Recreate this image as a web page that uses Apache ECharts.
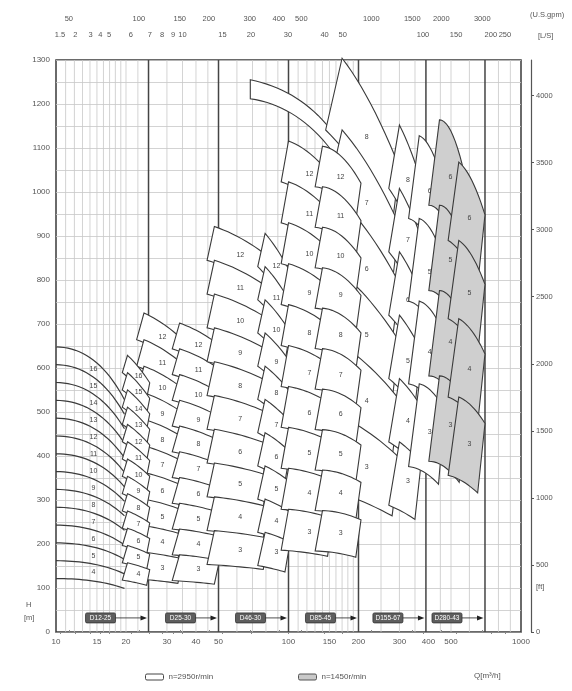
<!DOCTYPE html>
<html><head><meta charset="utf-8">
<script src="https://cdn.jsdelivr.net/npm/echarts@6/dist/echarts.min.js"></script>
<style>html,body{margin:0;padding:0;background:#fff}#c{width:572px;height:691px}</style>
</head><body><div id="c"></div>
<script>
// ---------- data ----------
const flowTicks = [10, 15, 20, 30, 40, 50, 100, 150, 200, 300, 400, 500, 1000];
const gpmTicks = [50, 100, 150, 200, 300, 400, 500, 1000, 1500, 2000, 3000];
const lsTickLabels = ['1.5','2','3','4','5','6','7','8','9','10','15','20','30','40','50','100','150','200','250'];
const lsTickFlow = [10.4, 12.1, 14.1, 15.5, 16.9, 21.0, 25.3, 28.6, 31.9, 35.0, 52, 68.9, 99.5, 143, 171, 379, 526, 742, 853];
const gridFlows = [11,12,13,14,15,16,17,18,19,20,22.5,30,35,40,45,60,70,80,90,110,120,130,140,150,160,170,180,190,250,300,350,450,500,600,800,900];
const sepFlows = [25, 50, 100, 200, 390, 700];
const boxModels = ['D12-25', 'D25-30', 'D46-30', 'D85-45', 'D155-67', 'D280-43'];

// family A: open H-Q curves (one per stage count)
const aStages = [3,4,5,6,7,8,9,10,11,12,13,14,15,16];
const aFlow = [10, 14.5, 19.7];
const aHeadPerStage = [40.5, 38.6, 33.0];

// long band above the 100-200 columns
const bandFlowTop = [68.5, 123.5, 189];
const bandHeadTop = [1255, 1191, 1061];
const bandFlowBot = [68.5, 123.5, 196];
const bandHeadBot = [1212, 1148, 1000];

// tile families (columns of stage tiles): B C D E F G H I J K L M
const famQL = [20.3, 23.9, 34.0, 48.0, 79.3, 100, 140, 170, 300, 365, 446, 540];
const famQR = [25.3, 35.2, 50.5, 82.0, 101.6, 155, 205, 300, 372, 470, 583, 700];
const famHL = [39.3, 60.4, 58.5, 76.8, 75.5, 93, 92, 163, 144, 188, 194, 178];
const famHM = [37.6, 58.3, 56.8, 74.5, 72.3, 90.5, 90, 150, 137, 182, 188, 171];
const famHR = [35.4, 55.3, 54.3, 71.1, 68.2, 86, 85, 132, 128, 168, 170, 158];
const famShiftL = [0.95, 0.93, 0.93, 0.93, 0.93, 0.93, 0.93, 0.85, 0.9, 0.9, 0.9, 0.9];
const famShiftR = [0.97, 0.95, 0.95, 0.95, 0.95, 0.95, 0.95, 0.93, 0.94, 0.94, 0.93, 0.93];
const famMinStage = [4, 3, 3, 3, 3, 3, 3, 3, 3, 3, 3, 3];
const famMaxStage = [16, 12, 12, 12, 12, 12, 12, 8, 8, 6, 6, 6];
const famSpeed = [2950, 2950, 2950, 2950, 2950, 2950, 2950, 2950, 2950, 2950, 1450, 1450];
const famDrawOrder = [1, 0, 2, 3, 4, 7, 8, 9, 5, 6, 10, 11];

// ---------- helpers ----------
const FONT = 'Liberation Sans, Arial, sans-serif';
function bez(p0, p1, p2, n) {
  const c = [2 * p1[0] - (p0[0] + p2[0]) / 2, 2 * p1[1] - (p0[1] + p2[1]) / 2];
  const pts = [];
  for (let i = 0; i <= n; i++) {
    const t = i / n, u = 1 - t;
    pts.push([u*u*p0[0] + 2*u*t*c[0] + t*t*p2[0], u*u*p0[1] + 2*u*t*c[1] + t*t*p2[1]]);
  }
  return pts;
}
function tileData(speed) {
  const d = [];
  famDrawOrder.forEach(f => {
    if (famSpeed[f] !== speed) return;
    for (let n = famMaxStage[f]; n >= famMinStage[f]; n--) d.push([famQL[f], famHL[f] * n, f, n]);
  });
  return d;
}
function renderTile(params, api) {
  const f = api.value(2), n = api.value(3);
  const qL = famQL[f], qR = famQR[f], qM = Math.sqrt(qL * qR);
  const bL = qL * famShiftL[f], bR = qR * famShiftR[f], bM = Math.sqrt(bL * bR);
  const top = bez(api.coord([qL, n * famHL[f]]), api.coord([qM, n * famHM[f]]), api.coord([qR, n * famHR[f]]), 12);
  const bot = bez(api.coord([bL, (n - 1) * famHL[f]]), api.coord([bM, (n - 1) * famHM[f]]), api.coord([bR, (n - 1) * famHR[f]]), 12);
  const pts = top.concat(bot.slice().reverse());
  const cx = (top[6][0] + bot[6][0]) / 2 + 2, cy = (top[6][1] + bot[6][1]) / 2;
  const gray = famSpeed[f] === 1450;
  return { type: 'group', children: [
    { type: 'polygon', shape: { points: pts }, style: { fill: gray ? '#cfcfcf' : '#ffffff', stroke: '#3a3a3a', lineWidth: 1.1 } },
    { type: 'text', style: { text: String(n), x: cx, y: cy, align: 'center', verticalAlign: 'middle', fill: '#444', fontSize: 7, fontFamily: FONT } }
  ]};
}
const plain = v => String(Math.round(v));

const chart = echarts.init(document.getElementById('c'));
const option = {
  animation: false,
  backgroundColor: '#ffffff',
  grid: { left: 56, right: 51, top: 60, bottom: 59, show: true, borderColor: '#3a3a3a', borderWidth: 1.5, backgroundColor: '#fff' },
  legend: [
    { left: 140, top: 668, icon: 'roundRect', itemWidth: 18, itemHeight: 6, selectedMode: false,
      data: [{ name: 'n=2950r/min', itemStyle: { color: '#fff', borderColor: '#444', borderWidth: 1 } }],
      textStyle: { fontSize: 8, color: '#555', fontFamily: FONT } },
    { left: 293, top: 668, icon: 'roundRect', itemWidth: 18, itemHeight: 6, selectedMode: false,
      data: [{ name: 'n=1450r/min', itemStyle: { color: '#c9c9c9', borderColor: '#555', borderWidth: 1 } }],
      textStyle: { fontSize: 8, color: '#555', fontFamily: FONT } }
  ],
  xAxis: [
    { type: 'log', logBase: 10, min: 10, max: 1000, position: 'bottom',
      axisLine: { show: false }, axisTick: { show: false }, splitLine: { show: false },
      axisLabel: { customValues: flowTicks, fontSize: 8, color: '#555', margin: 6, fontFamily: FONT, formatter: plain } },
    { type: 'log', logBase: 10, min: 10 * 4.4029, max: 1000 * 4.4029, position: 'top', offset: 33,
      axisLine: { show: true, lineStyle: { color: '#888', width: 1 } },
      axisTick: { show: true, customValues: gpmTicks, length: 2, lineStyle: { color: '#888' } },
      splitLine: { show: false },
      axisLabel: { customValues: gpmTicks, fontSize: 7.5, color: '#555', margin: 4, fontFamily: FONT, formatter: plain } },
    { type: 'log', logBase: 10, min: 10, max: 1000, position: 'top', offset: 33,
      axisLine: { show: false }, splitLine: { show: false },
      axisTick: { show: true, inside: true, customValues: lsTickFlow, length: 2, lineStyle: { color: '#888' } },
      axisLabel: { inside: true, customValues: lsTickFlow, fontSize: 7.5, color: '#555', margin: 4, fontFamily: FONT,
        formatter: v => {
          let best = 0;
          for (let i = 1; i < lsTickFlow.length; i++) if (Math.abs(lsTickFlow[i] - v) < Math.abs(lsTickFlow[best] - v)) best = i;
          return lsTickLabels[best];
        } } }
  ],
  yAxis: [
    { type: 'value', min: 0, max: 1300, interval: 100, axisLine: { show: false }, axisTick: { show: false },
      splitLine: { show: false }, axisLabel: { fontSize: 8, color: '#555', margin: 6, fontFamily: FONT, formatter: plain } },
    { type: 'value', min: 0, max: 1300 * 3.28084, interval: 500, position: 'right', offset: 10,
      axisLine: { show: true, lineStyle: { color: '#555', width: 1.2 } }, axisTick: { show: true, length: 3 },
      splitLine: { show: false },
      axisLabel: { fontSize: 7.5, color: '#555', margin: 5, showMaxLabel: false, fontFamily: FONT, formatter: plain } },
    { type: 'value', min: 0, max: 1300, interval: 50, show: true, axisLine: { show: false }, axisTick: { show: false },
      axisLabel: { show: false }, splitLine: { show: true, lineStyle: { color: '#c8c8c8', width: 0.8 } } }
  ],
  series: [
    { type: 'custom', name: 'vgrid', xAxisIndex: 0, yAxisIndex: 0, silent: true, z: 1,
      data: gridFlows.map(q => [q, 0]),
      renderItem: (p, api) => {
        const a = api.coord([api.value(0), 0]), b = api.coord([api.value(0), 1300]);
        return { type: 'line', shape: { x1: a[0], y1: a[1], x2: b[0], y2: b[1] }, style: { stroke: '#c8c8c8', lineWidth: 0.8 } };
      } },
    { type: 'custom', name: 'sep', xAxisIndex: 0, yAxisIndex: 0, silent: true, z: 2,
      data: sepFlows.map(q => [q, 0]),
      renderItem: (p, api) => {
        const a = api.coord([api.value(0), 0]), b = api.coord([api.value(0), 1300]);
        return { type: 'line', shape: { x1: a[0], y1: a[1], x2: b[0], y2: b[1] }, style: { stroke: '#444', lineWidth: 1.5 } };
      } },
    { type: 'custom', name: 'familyA', xAxisIndex: 0, yAxisIndex: 0, silent: true, z: 3,
      data: aStages.map(n => [aFlow[0], n * aHeadPerStage[0], n]),
      renderItem: (p, api) => {
        const n = api.value(2);
        const pts = bez(api.coord([aFlow[0], n * aHeadPerStage[0]]), api.coord([aFlow[1], n * aHeadPerStage[1]]), api.coord([aFlow[2], n * aHeadPerStage[2]]), 20);
        const ch = [{ type: 'polyline', shape: { points: pts }, style: { stroke: '#3a3a3a', lineWidth: 1.2, fill: null } }];
        if (n > aStages[0]) {
          const c = api.coord([aFlow[1], (n - 0.5) * aHeadPerStage[1]]);
          ch.push({ type: 'text', style: { text: String(n), x: c[0], y: c[1], align: 'center', verticalAlign: 'middle', fill: '#444', fontSize: 7, fontFamily: FONT } });
        }
        return { type: 'group', children: ch };
      } },
    { type: 'custom', name: 'band', xAxisIndex: 0, yAxisIndex: 0, silent: true, z: 3,
      data: [[bandFlowTop[0], bandHeadTop[0]]],
      renderItem: (p, api) => {
        const top = bez(api.coord([bandFlowTop[0], bandHeadTop[0]]), api.coord([bandFlowTop[1], bandHeadTop[1]]), api.coord([bandFlowTop[2], bandHeadTop[2]]), 24);
        const bot = bez(api.coord([bandFlowBot[0], bandHeadBot[0]]), api.coord([bandFlowBot[1], bandHeadBot[1]]), api.coord([bandFlowBot[2], bandHeadBot[2]]), 24);
        return { type: 'polygon', shape: { points: top.concat(bot.reverse()) }, style: { fill: '#fff', stroke: '#3a3a3a', lineWidth: 1.1 } };
      } },
    { type: 'custom', name: 'n=2950r/min', xAxisIndex: 0, yAxisIndex: 0, z: 4,
      itemStyle: { color: '#fff', borderColor: '#444', borderWidth: 1 },
      data: tileData(2950), renderItem: renderTile },
    { type: 'custom', name: 'n=1450r/min', xAxisIndex: 0, yAxisIndex: 0, z: 5,
      itemStyle: { color: '#c9c9c9', borderColor: '#555', borderWidth: 1 },
      data: tileData(1450), renderItem: renderTile },
    { type: 'custom', name: 'boxes', xAxisIndex: 0, yAxisIndex: 0, silent: true, z: 6,
      data: sepFlows.map((q, i) => [q, 32, i]),
      renderItem: (p, api) => {
        const c = api.coord([api.value(0), api.value(1)]);
        const i = api.value(2);
        const x1 = c[0] - (i === 0 ? 33 : 23), bx = x1 - 30;
        return { type: 'group', children: [
          { type: 'rect', shape: { x: bx, y: c[1] - 5, width: 30, height: 10, r: 1.5 }, style: { fill: '#5e5e5e', stroke: '#333', lineWidth: 0.8 } },
          { type: 'text', style: { text: boxModels[i], x: bx + 15, y: c[1], align: 'center', verticalAlign: 'middle', fill: '#fff', fontSize: 6.5, fontFamily: FONT } },
          { type: 'line', shape: { x1: x1, y1: c[1], x2: c[0] - 6, y2: c[1] }, style: { stroke: '#222', lineWidth: 0.8 } },
          { type: 'polygon', shape: { points: [[c[0] - 1.5, c[1]], [c[0] - 8, c[1] - 2.5], [c[0] - 8, c[1] + 2.5]] }, style: { fill: '#222' } }
        ]};
      } }
  ],
  graphic: [
    { type: 'text', left: 26, top: 601, style: { text: 'H', fontSize: 7.5, fill: '#555', fontFamily: FONT } },
    { type: 'text', left: 24, top: 614, style: { text: '[m]', fontSize: 7.5, fill: '#555', fontFamily: FONT } },
    { type: 'text', left: 536, top: 583, style: { text: '[ft]', fontSize: 7.5, fill: '#555', fontFamily: FONT } },
    { type: 'text', left: 530, top: 11, style: { text: '(U.S.gpm)', fontSize: 7.5, fill: '#555', fontFamily: FONT } },
    { type: 'text', left: 538, top: 32, style: { text: '[L/S]', fontSize: 7.5, fill: '#555', fontFamily: FONT } },
    { type: 'text', left: 474, top: 672, style: { text: 'Q[m³/h]', fontSize: 8, fill: '#555', fontFamily: FONT } }
  ]
};
chart.setOption(option);
</script>
</body></html>
